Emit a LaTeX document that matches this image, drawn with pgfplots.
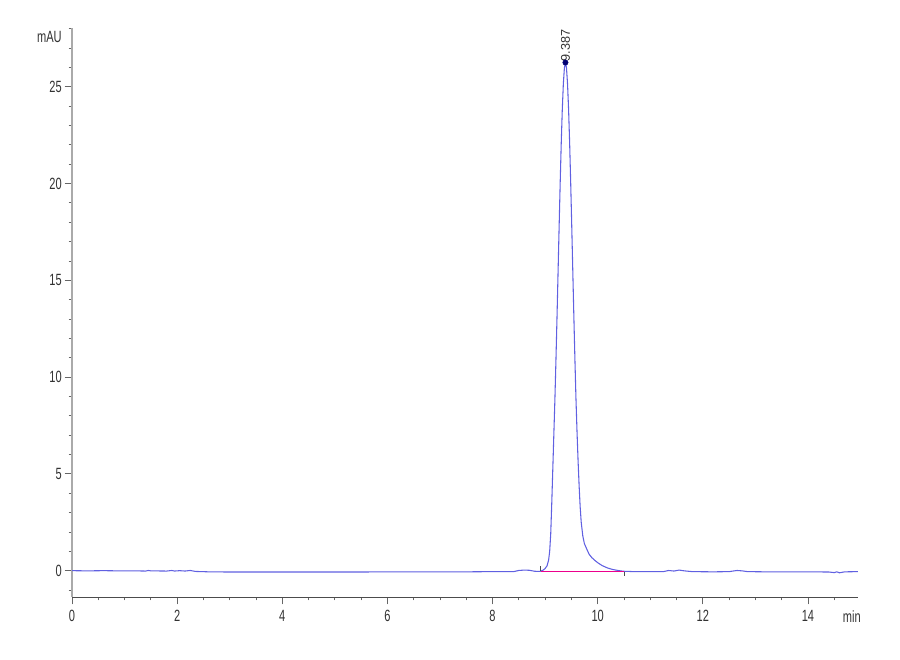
\documentclass[border=0pt]{standalone}
\usepackage{fontspec}
\setmainfont{Liberation Sans}[FakeStretch=0.68]
\newfontfamily\peakfont{Liberation Sans}
\usepackage{pgfplots}
\pgfplotsset{compat=1.18}
\definecolor{trace}{RGB}{96,96,225}
\definecolor{axgray}{RGB}{170,170,170}
\definecolor{txtgray}{RGB}{50,50,50}

\pgfplotstableread{
x y
0 0.00
0.3 -0.01
0.6 0.00
0.9 -0.01
1.2 -0.01
1.4 -0.02
1.45 0.01
1.5 -0.01
1.8 -0.02
1.9 0.01
1.95 -0.02
2.05 0.00
2.15 -0.02
2.25 0.01
2.35 -0.04
2.6 -0.06
3.0 -0.07
3.5 -0.07
4.0 -0.07
4.5 -0.07
5.0 -0.07
5.5 -0.07
6.0 -0.06
6.5 -0.06
7.0 -0.06
7.5 -0.06
8.0 -0.05
8.4 -0.05
8.5 0.01
8.6 0.03
8.7 0.02
8.8 -0.03
8.9 -0.04
8.957 0.02
8.997 0.10
9.037 0.25
9.067 0.55
9.087 1.00
9.107 1.90
9.127 3.50
9.147 5.30
9.167 7.10
9.187 8.90
9.207 10.94
9.227 13.14
9.247 15.46
9.267 17.79
9.287 20.03
9.307 22.08
9.327 23.82
9.347 25.14
9.367 25.97
9.387 26.25
9.407 25.97
9.427 25.14
9.447 23.82
9.467 22.08
9.487 20.03
9.507 17.79
9.527 15.46
9.547 13.14
9.567 10.94
9.587 8.90
9.607 7.20
9.627 5.70
9.647 4.40
9.667 3.30
9.687 2.50
9.717 1.80
9.747 1.40
9.787 1.15
9.837 0.85
9.887 0.68
9.937 0.55
10.007 0.40
10.087 0.26
10.187 0.14
10.287 0.06
10.387 0.01
10.487 -0.03
10.7 -0.05
11.0 -0.05
11.25 -0.05
11.35 0.01
11.45 -0.02
11.55 0.03
11.65 -0.01
11.8 -0.05
12.2 -0.06
12.5 -0.05
12.65 0.01
12.75 -0.01
12.85 -0.05
13.2 -0.06
13.6 -0.06
14.0 -0.06
14.4 -0.07
14.5 -0.10
14.55 -0.06
14.6 -0.11
14.7 -0.06
14.95 -0.05
}\trace

\pgfplotstableread{
x y
8.92 -0.05
10.50 -0.05
}\baseline

\begin{document}
\begin{tikzpicture}
\begin{axis}[
  scale only axis,
  width=589.4pt, height=427pt,
  at={(54pt,47.25pt)}, anchor=south west,
  xmin=0, xmax=14.95,
  ymin=-1.36, ymax=28.05,
  axis x line*=bottom, axis y line*=left,
  every outer x axis line/.append style={-, draw=black!70, line width=0.6pt},
  every outer y axis line/.append style={-, draw=axgray, line width=1.4pt},
  xtick={0,2,...,16}, minor x tick num=3,
  ytick={-5,0,5,...,30}, minor y tick num=4,
  tick align=outside,
  major tick length=5.5pt, minor tick length=2.6pt,
  tick style={black!60, line width=0.6pt},
  /pgf/number format/assume math mode=true,
  tick label style={font=\fontsize{12.2}{14}\selectfont, text=txtgray},
  yticklabel style={inner xsep=2pt},
  xticklabel style={inner ysep=4pt},
  clip=false,
]
\addplot[color=trace, line width=0.8pt] table[x=x, y=y] {\trace};
\addplot[color=magenta, line width=1.1pt, mark=none] table[x=x, y=y] {\baseline};
\addplot[color=black!70, line width=0.5pt, mark=none] coordinates {(8.90,-0.03) (8.90,0.25)};
\addplot[color=black!70, line width=0.5pt, mark=none] coordinates {(10.506,-0.05) (10.506,-0.30)};
\addplot[only marks, mark=*, mark size=2pt, color=black!55!blue] coordinates {(9.387,26.25)};
\node[rotate=90, anchor=west, inner sep=0pt, font=\peakfont\fontsize{9.5}{11}\selectfont, text=txtgray]
  at (axis cs:9.387,26.3) {9.387};
\end{axis}
\node[anchor=east, inner sep=0pt, font=\fontsize{12.2}{14}\selectfont, text=txtgray] at (46.5pt,466.9pt) {mAU};
\node[anchor=west, inner sep=0pt, font=\fontsize{12.2}{14}\selectfont, text=txtgray] at (632pt,32.25pt) {min};
\pgfresetboundingbox
\path[use as bounding box] (0,0) rectangle (675pt,495pt);
\end{tikzpicture}
\end{document}
